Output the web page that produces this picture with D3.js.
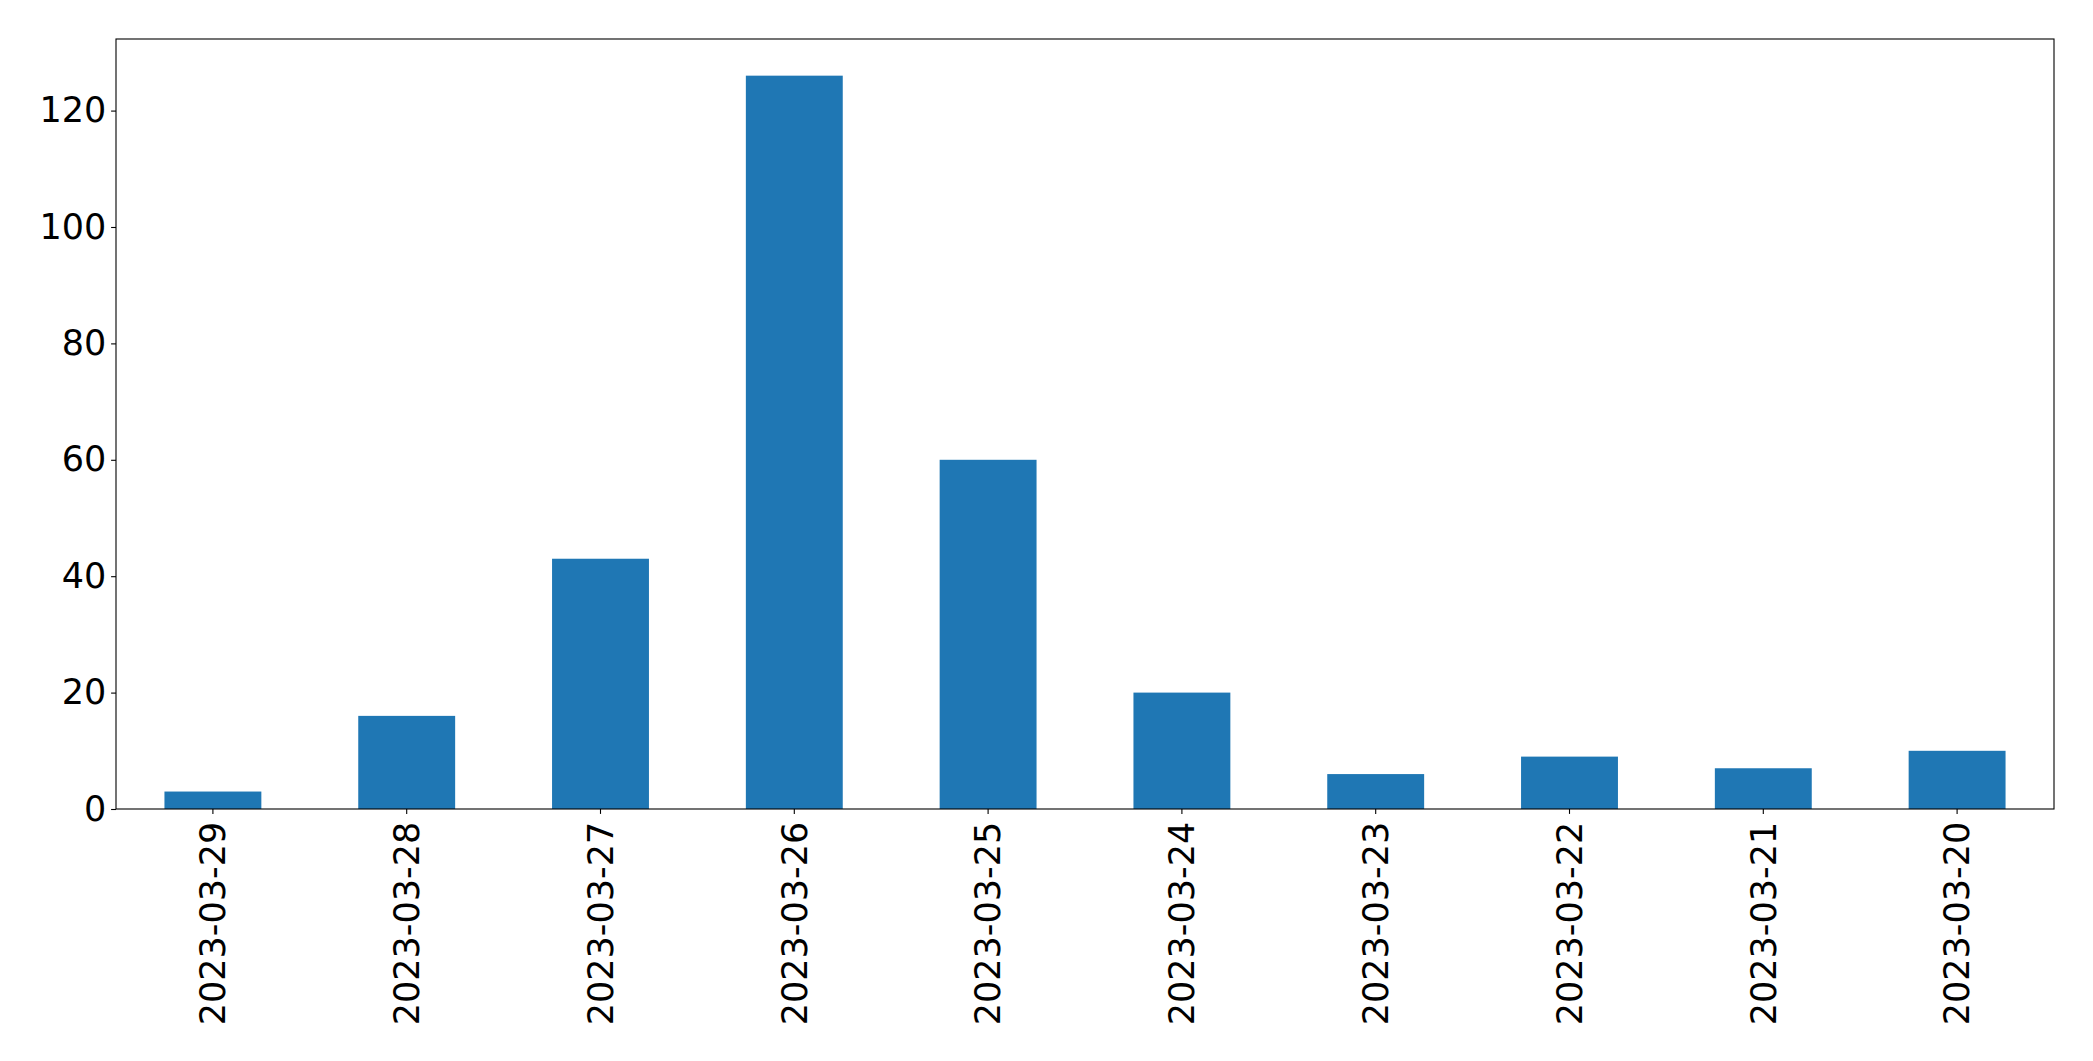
<!DOCTYPE html>
<html>
<head>
<meta charset="utf-8">
<script src="https://cdn.jsdelivr.net/npm/d3@7"></script>
<style>
  html, body { margin: 0; padding: 0; background: #fff; }
  svg { display: block; }
</style>
</head>
<body>
<svg id="chart" width="2093" height="1061"></svg>
<script>
const categories = ["2023-03-29","2023-03-28","2023-03-27","2023-03-26","2023-03-25","2023-03-24","2023-03-23","2023-03-22","2023-03-21","2023-03-20"];
const values = [3, 16, 43, 126, 60, 20, 6, 9, 7, 10];
const yTicks = [0, 20, 40, 60, 80, 100, 120];

const W = 2093, H = 1061;
const margin = {left: 116, right: W - 2054, top: 39, bottom: H - 809};
const svg = d3.select("#chart");
const fontFamily = "'DejaVu Sans', sans-serif";
const fontSize = 35;

const x = d3.scaleBand().domain(categories)
  .range([margin.left, W - margin.right]).paddingInner(0.5).paddingOuter(0.25);
const y = d3.scaleLinear().domain([0, d3.max(values) * 1.05])
  .range([H - margin.bottom, margin.top]);

svg.append("g").selectAll("rect").data(values).join("rect")
  .attr("x", (d, i) => x(categories[i]))
  .attr("width", x.bandwidth())
  .attr("y", d => y(d))
  .attr("height", d => y(0) - y(d))
  .attr("fill", "#1f77b4");

// frame
svg.append("rect")
  .attr("x", margin.left).attr("y", margin.top)
  .attr("width", W - margin.right - margin.left)
  .attr("height", H - margin.bottom - margin.top)
  .attr("fill", "none").attr("stroke", "#000").attr("stroke-width", 1.1);

const yAxis = svg.append("g")
  .attr("transform", `translate(${margin.left},0)`)
  .call(d3.axisLeft(y).tickValues(yTicks).tickSize(4.9).tickPadding(4.9).tickFormat(d3.format("d")));
yAxis.select(".domain").remove();
yAxis.selectAll("line").attr("stroke", "#000").attr("stroke-width", 1.1);
yAxis.selectAll("text").attr("font-family", fontFamily).attr("font-size", fontSize).attr("fill", "#000");

const xAxis = svg.append("g")
  .attr("transform", `translate(0,${H - margin.bottom})`)
  .call(d3.axisBottom(x).tickSize(4.9).tickPadding(4.9));
xAxis.select(".domain").remove();
xAxis.selectAll("line").attr("stroke", "#000").attr("stroke-width", 1.1);
xAxis.selectAll("text")
  .attr("font-family", fontFamily).attr("font-size", fontSize).attr("fill", "#000")
  .attr("text-anchor", "end")
  .attr("transform", "rotate(-90)")
  .attr("x", -(4.9 + 4.9 + 3)).attr("y", 0).attr("dy", "0.35em");
</script>
</body>
</html>
